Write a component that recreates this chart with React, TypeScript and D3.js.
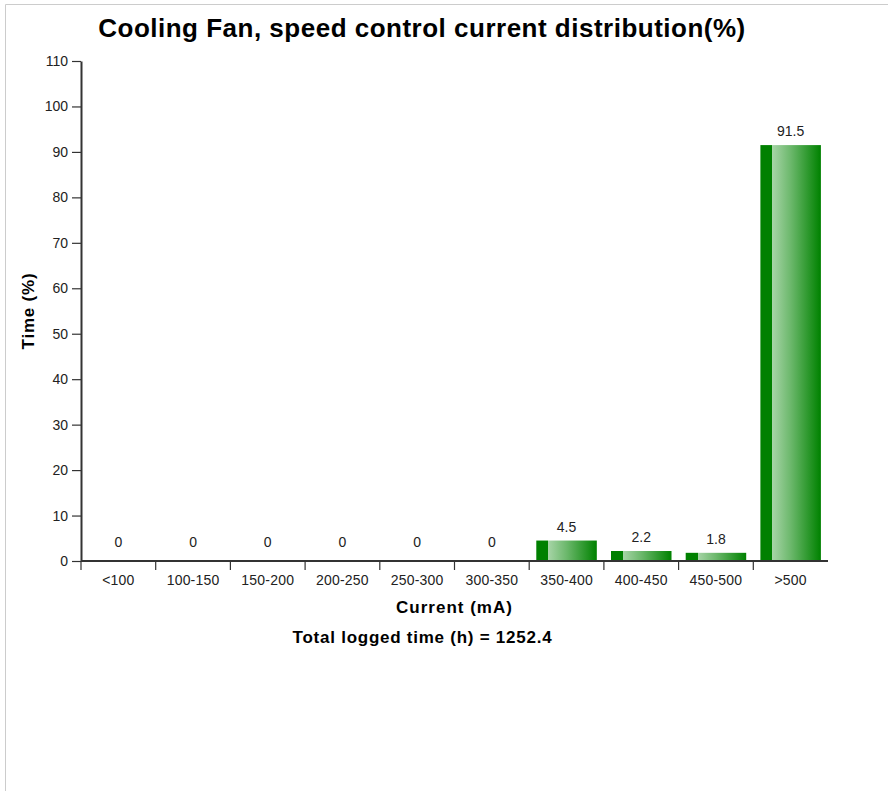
import React, { useEffect, useRef } from "react";
import * as d3 from "d3";

const categories = ["<100", "100-150", "150-200", "200-250", "250-300", "300-350", "350-400", "400-450", "450-500", ">500"];
const values = [0, 0, 0, 0, 0, 0, 4.5, 2.2, 1.8, 91.5];
const yTicks = [0, 10, 20, 30, 40, 50, 60, 70, 80, 90, 100, 110];
const titleText = "Cooling Fan, speed control current distribution(%)";
const xTitle = "Current (mA)";
const yTitle = "Time (%)";
const totalText = "Total logged time (h) = 1252.4";

const W = 888;
const H = 791;
const left = 81;
const right = 828;
const top = 61;
const bottom = 561;

export default function App() {
  const ref = useRef<SVGSVGElement | null>(null);

  useEffect(() => {
    const svg = d3.select(ref.current);
    svg.selectAll("*").remove();
    const font = "Arial, 'Liberation Sans', sans-serif";

    const x = d3.scaleBand<string>().domain(categories).range([left, right]).paddingInner(0.19).paddingOuter(0.095);
    const y = d3.scaleLinear().domain([0, 110]).range([bottom, top]);
    const step = x.step();
    const bw = x.bandwidth();

    const defs = svg.append("defs");
    const grad = defs.append("linearGradient").attr("id", "barGrad").attr("x1", "0").attr("x2", "1").attr("y1", "0").attr("y2", "0");
    [
      [0, "#008000"],
      [0.2, "#008000"],
      [0.2, "#a6d4a6"],
      [0.5, "#6cb86c"],
      [0.95, "#0a870a"],
      [1, "#008000"],
    ].forEach(([o, c]) => grad.append("stop").attr("offset", o as number).attr("stop-color", c as string));

    // border
    svg.append("line").attr("x1", 5.5).attr("x2", W).attr("y1", 4.5).attr("y2", 4.5).attr("stroke", "#cccccc").attr("stroke-width", 1);
    svg.append("line").attr("x1", 5.5).attr("x2", 5.5).attr("y1", 4.5).attr("y2", H).attr("stroke", "#cccccc").attr("stroke-width", 1);

    // title
    svg.append("text").attr("x", 422).attr("y", 37).attr("text-anchor", "middle")
      .attr("font-family", font).attr("font-weight", "bold").attr("font-size", 26).attr("letter-spacing", 0.5)
      .attr("fill", "#000").text(titleText);

    // bars
    svg.append("g").selectAll("rect").data(values).join("rect")
      .attr("x", (_, i) => x(categories[i])!)
      .attr("y", (d) => y(d))
      .attr("width", bw)
      .attr("height", (d) => bottom - y(d))
      .attr("fill", "url(#barGrad)");

    // value labels
    svg.append("g").selectAll("text").data(values).join("text")
      .attr("x", (_, i) => x(categories[i])! + bw / 2)
      .attr("y", (d) => (d === 0 ? y(d) - 14 : y(d) - 9))
      .attr("text-anchor", "middle")
      .attr("font-family", font).attr("font-size", 14).attr("fill", "#222")
      .text((d) => String(d));

    // y axis
    const yAxis = d3.axisLeft(y).tickValues(yTicks).tickSize(9).tickSizeOuter(0).tickPadding(4);
    const gy = svg.append("g").attr("transform", `translate(${left},0)`).call(yAxis as any);
    gy.select(".domain").attr("stroke", "#333").attr("stroke-width", 2);
    gy.selectAll(".tick line").attr("stroke", "#333").attr("stroke-width", 1.2);
    gy.selectAll(".tick text").attr("font-family", font).attr("font-size", 14).attr("fill", "#222");

    // x axis
    const gx = svg.append("g");
    gx.append("line").attr("x1", left).attr("x2", right).attr("y1", bottom).attr("y2", bottom).attr("stroke", "#333").attr("stroke-width", 2);
    gx.selectAll("line.tk").data(categories).join("line").attr("class", "tk")
      .attr("x1", (c) => x(c)! - (step - bw) / 2)
      .attr("x2", (c) => x(c)! - (step - bw) / 2)
      .attr("y1", bottom).attr("y2", bottom + 9)
      .attr("stroke", "#333").attr("stroke-width", 1.2);
    gx.selectAll("text.tl").data(categories).join("text").attr("class", "tl")
      .attr("x", (c) => x(c)! + bw / 2)
      .attr("y", bottom + 24)
      .attr("text-anchor", "middle")
      .attr("font-family", font).attr("font-size", 14).attr("letter-spacing", 0.2).attr("fill", "#222")
      .text((c) => c);

    // axis titles
    svg.append("text").attr("x", (left + right) / 2).attr("y", 613).attr("text-anchor", "middle")
      .attr("font-family", font).attr("font-weight", "bold").attr("font-size", 17).attr("letter-spacing", 1)
      .attr("fill", "#000").text(xTitle);
    svg.append("text").attr("transform", `translate(34,${(top + bottom) / 2}) rotate(-90)`).attr("text-anchor", "middle")
      .attr("font-family", font).attr("font-weight", "bold").attr("font-size", 17).attr("letter-spacing", 0.8)
      .attr("fill", "#000").text(yTitle);
    svg.append("text").attr("x", 422.5).attr("y", 643).attr("text-anchor", "middle")
      .attr("font-family", font).attr("font-weight", "bold").attr("font-size", 17).attr("letter-spacing", 0.75)
      .attr("fill", "#000").text(totalText);
  }, []);

  return (
    <svg ref={ref} width={W} height={H} style={{ position: "absolute", left: 0, top: 0, background: "#fff" }} />
  );
}
